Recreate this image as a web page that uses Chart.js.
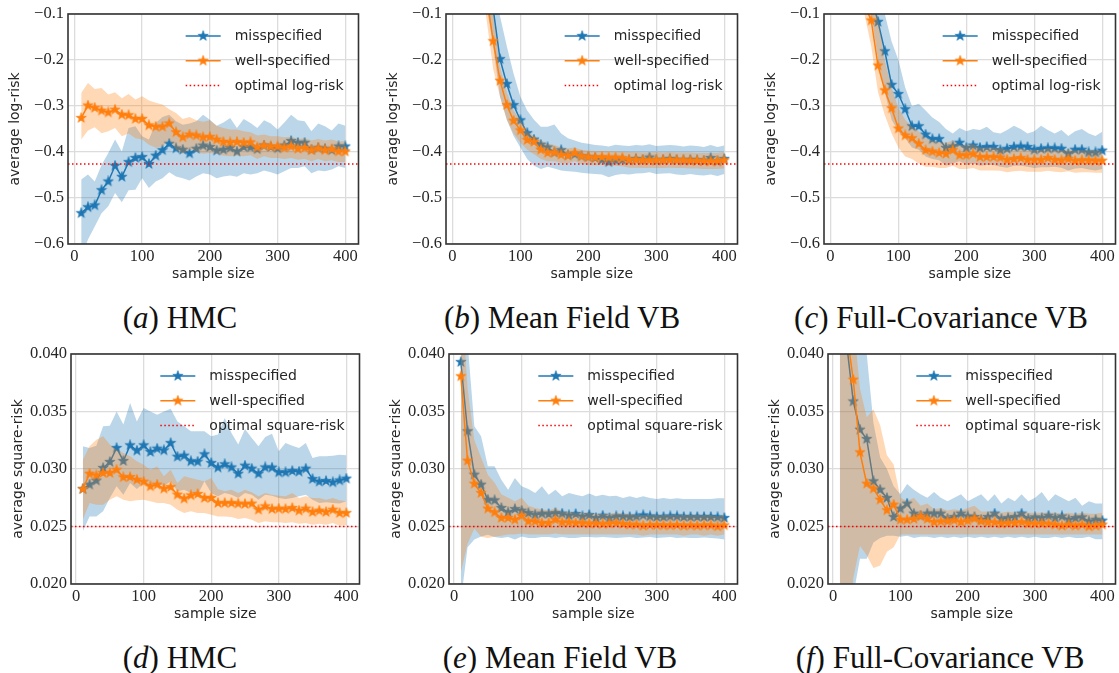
<!DOCTYPE html>
<html>
<head>
<meta charset="utf-8">
<script src="https://cdn.jsdelivr.net/npm/chart.js@4.4.1/dist/chart.umd.min.js"></script>
<style>
  html, body { margin: 0; padding: 0; background: #fff; }
  #fig { position: relative; width: 1119px; height: 673px; overflow: hidden; background: #fff; }
  #fig canvas { position: absolute; }
  .cap { position: absolute; transform: translateX(-50%); white-space: nowrap;
         font-family: "Liberation Serif", serif; font-size: 31px; line-height: 31px; color: #111; }
</style>
</head>
<body>
<div id="fig"></div>
<script>
// --- dane ---
const sampleSizes = [10,20,30,40,50,60,70,80,90,100,110,120,130,140,150,160,170,180,190,200,
                     210,220,230,240,250,260,270,280,290,300,310,320,330,340,350,360,370,380,390,400];
const xTicks = [0, 100, 200, 300, 400];
const logTicks = [-0.6, -0.5, -0.4, -0.3, -0.2, -0.1];
const sqTicks = [0.020, 0.025, 0.030, 0.035, 0.040];
const optimalLogRisk = -0.426;
const optimalSquareRisk = 0.025;

// (a) HMC, log-risk
const hmcLogMis   = [-0.533,-0.520,-0.516,-0.483,-0.464,-0.430,-0.454,-0.422,-0.413,-0.411,-0.426,-0.408,-0.396,-0.382,-0.392,-0.395,-0.403,-0.393,-0.386,-0.389,-0.397,-0.395,-0.391,-0.399,-0.389,-0.390,-0.394,-0.386,-0.389,-0.392,-0.386,-0.376,-0.380,-0.380,-0.395,-0.391,-0.393,-0.396,-0.388,-0.388];
const hmcLogMisHi = [-0.460,-0.449,-0.464,-0.428,-0.402,-0.373,-0.399,-0.348,-0.344,-0.366,-0.373,-0.337,-0.324,-0.319,-0.333,-0.341,-0.338,-0.333,-0.319,-0.330,-0.343,-0.336,-0.326,-0.348,-0.328,-0.337,-0.348,-0.331,-0.338,-0.351,-0.336,-0.319,-0.331,-0.333,-0.355,-0.338,-0.344,-0.353,-0.338,-0.343];
const hmcLogMisLo = [-0.630,-0.590,-0.562,-0.533,-0.518,-0.489,-0.509,-0.483,-0.482,-0.457,-0.478,-0.464,-0.457,-0.444,-0.453,-0.457,-0.462,-0.453,-0.446,-0.449,-0.457,-0.453,-0.451,-0.454,-0.446,-0.449,-0.446,-0.440,-0.444,-0.449,-0.442,-0.435,-0.435,-0.431,-0.446,-0.440,-0.442,-0.438,-0.431,-0.435];
const hmcLogWell   = [-0.326,-0.299,-0.304,-0.310,-0.314,-0.308,-0.319,-0.320,-0.328,-0.328,-0.342,-0.345,-0.345,-0.338,-0.357,-0.368,-0.362,-0.364,-0.368,-0.367,-0.373,-0.378,-0.379,-0.378,-0.380,-0.379,-0.390,-0.386,-0.388,-0.388,-0.391,-0.388,-0.393,-0.391,-0.396,-0.392,-0.396,-0.394,-0.399,-0.399];
const hmcLogWellHi = [-0.272,-0.250,-0.263,-0.261,-0.275,-0.270,-0.283,-0.274,-0.286,-0.279,-0.288,-0.293,-0.297,-0.307,-0.315,-0.328,-0.324,-0.331,-0.334,-0.331,-0.343,-0.348,-0.351,-0.351,-0.355,-0.357,-0.364,-0.362,-0.366,-0.366,-0.368,-0.367,-0.372,-0.370,-0.375,-0.372,-0.375,-0.373,-0.377,-0.376];
const hmcLogWellLo = [-0.373,-0.353,-0.346,-0.359,-0.355,-0.348,-0.366,-0.360,-0.370,-0.373,-0.384,-0.391,-0.388,-0.373,-0.395,-0.404,-0.395,-0.399,-0.404,-0.402,-0.404,-0.408,-0.409,-0.408,-0.409,-0.407,-0.415,-0.409,-0.413,-0.413,-0.415,-0.413,-0.417,-0.415,-0.420,-0.415,-0.420,-0.418,-0.422,-0.422];

// (b) Mean Field VB, log-risk
const mfLogMis   = [1.200,0.600,0.300,0.100,-0.020,-0.090,-0.198,-0.252,-0.298,-0.331,-0.359,-0.373,-0.384,-0.390,-0.401,-0.396,-0.407,-0.405,-0.409,-0.411,-0.413,-0.417,-0.422,-0.418,-0.417,-0.418,-0.415,-0.417,-0.412,-0.418,-0.417,-0.415,-0.417,-0.418,-0.417,-0.418,-0.419,-0.413,-0.420,-0.415];
const mfLogMisHi = [1.800,1.000,0.550,0.280,0.080,-0.020,-0.105,-0.170,-0.230,-0.280,-0.310,-0.330,-0.345,-0.345,-0.340,-0.360,-0.370,-0.375,-0.380,-0.382,-0.385,-0.386,-0.388,-0.384,-0.386,-0.387,-0.385,-0.386,-0.383,-0.387,-0.386,-0.385,-0.386,-0.388,-0.386,-0.387,-0.389,-0.385,-0.389,-0.386];
const mfLogMisLo = [0.700,0.250,0.080,-0.020,-0.080,-0.170,-0.280,-0.330,-0.365,-0.390,-0.415,-0.430,-0.437,-0.432,-0.436,-0.440,-0.442,-0.443,-0.445,-0.447,-0.448,-0.449,-0.455,-0.450,-0.448,-0.449,-0.447,-0.446,-0.444,-0.448,-0.447,-0.446,-0.449,-0.450,-0.448,-0.450,-0.451,-0.449,-0.452,-0.448];
const mfLogWell   = [1.000,0.500,0.200,0.050,-0.060,-0.159,-0.245,-0.298,-0.332,-0.353,-0.374,-0.378,-0.395,-0.402,-0.401,-0.406,-0.408,-0.402,-0.409,-0.411,-0.412,-0.411,-0.412,-0.412,-0.413,-0.417,-0.417,-0.418,-0.418,-0.418,-0.418,-0.417,-0.418,-0.418,-0.419,-0.419,-0.420,-0.420,-0.420,-0.418];
const mfLogWellHi = [1.400,0.750,0.350,0.120,-0.020,-0.100,-0.215,-0.270,-0.310,-0.330,-0.355,-0.365,-0.375,-0.382,-0.385,-0.390,-0.392,-0.390,-0.395,-0.397,-0.398,-0.398,-0.398,-0.399,-0.399,-0.400,-0.400,-0.401,-0.401,-0.400,-0.401,-0.400,-0.401,-0.401,-0.401,-0.402,-0.402,-0.402,-0.402,-0.400];
const mfLogWellLo = [0.700,0.300,0.080,-0.020,-0.110,-0.220,-0.280,-0.330,-0.360,-0.380,-0.395,-0.405,-0.415,-0.420,-0.420,-0.424,-0.425,-0.420,-0.426,-0.428,-0.429,-0.428,-0.430,-0.430,-0.431,-0.434,-0.434,-0.435,-0.435,-0.435,-0.435,-0.434,-0.435,-0.435,-0.436,-0.436,-0.437,-0.437,-0.437,-0.436];

// (c) Full-Covariance VB, log-risk
const fcLogMis   = [1.500,0.800,0.450,0.250,0.100,-0.060,-0.117,-0.181,-0.254,-0.274,-0.307,-0.344,-0.344,-0.362,-0.372,-0.372,-0.391,-0.388,-0.380,-0.391,-0.386,-0.391,-0.389,-0.389,-0.396,-0.393,-0.389,-0.388,-0.389,-0.395,-0.393,-0.392,-0.392,-0.393,-0.404,-0.395,-0.395,-0.401,-0.401,-0.397];
const fcLogMisHi = [2.000,1.200,0.700,0.420,0.220,0.050,-0.030,-0.100,-0.160,-0.200,-0.260,-0.300,-0.295,-0.310,-0.325,-0.335,-0.350,-0.360,-0.348,-0.355,-0.350,-0.352,-0.345,-0.357,-0.360,-0.352,-0.343,-0.350,-0.360,-0.355,-0.343,-0.352,-0.360,-0.352,-0.365,-0.355,-0.350,-0.360,-0.365,-0.356];
const fcLogMisLo = [1.000,0.500,0.250,0.100,0.000,-0.100,-0.200,-0.270,-0.330,-0.355,-0.370,-0.390,-0.395,-0.410,-0.415,-0.418,-0.430,-0.425,-0.420,-0.428,-0.425,-0.430,-0.428,-0.428,-0.432,-0.434,-0.430,-0.430,-0.432,-0.435,-0.433,-0.433,-0.432,-0.434,-0.440,-0.436,-0.435,-0.438,-0.440,-0.437];
const fcLogWell   = [1.200,0.600,0.300,0.100,-0.080,-0.114,-0.212,-0.266,-0.305,-0.349,-0.364,-0.370,-0.382,-0.396,-0.399,-0.402,-0.404,-0.396,-0.407,-0.407,-0.404,-0.411,-0.411,-0.411,-0.412,-0.417,-0.415,-0.413,-0.417,-0.417,-0.417,-0.413,-0.417,-0.418,-0.415,-0.419,-0.418,-0.418,-0.419,-0.419];
const fcLogWellHi = [1.600,0.900,0.500,0.250,0.100,-0.030,-0.110,-0.200,-0.260,-0.305,-0.330,-0.345,-0.355,-0.370,-0.375,-0.378,-0.380,-0.375,-0.385,-0.385,-0.383,-0.390,-0.390,-0.390,-0.392,-0.395,-0.393,-0.392,-0.395,-0.395,-0.395,-0.392,-0.395,-0.396,-0.394,-0.397,-0.396,-0.396,-0.397,-0.398];
const fcLogWellLo = [0.800,0.400,0.150,0.000,-0.100,-0.170,-0.270,-0.320,-0.360,-0.390,-0.410,-0.415,-0.425,-0.432,-0.432,-0.435,-0.435,-0.430,-0.437,-0.437,-0.435,-0.440,-0.440,-0.440,-0.441,-0.444,-0.442,-0.441,-0.443,-0.443,-0.443,-0.441,-0.443,-0.444,-0.442,-0.445,-0.444,-0.444,-0.445,-0.445];

// (d) HMC, square-risk
const hmcSqMis   = [0.02826,0.02864,0.02899,0.03009,0.03061,0.03183,0.03070,0.03206,0.03160,0.03206,0.03148,0.03177,0.03162,0.03226,0.03107,0.03116,0.03067,0.03064,0.03128,0.03052,0.03012,0.03041,0.03014,0.02959,0.03029,0.03003,0.02959,0.03014,0.03012,0.02971,0.02971,0.02983,0.02977,0.03003,0.02913,0.02890,0.02896,0.02884,0.02901,0.02916];
const hmcSqMisHi = [0.03197,0.03183,0.03203,0.03371,0.03377,0.03500,0.03386,0.03574,0.03414,0.03530,0.03500,0.03472,0.03500,0.03525,0.03414,0.03371,0.03328,0.03328,0.03328,0.03284,0.03299,0.03443,0.03313,0.03212,0.03348,0.03270,0.03197,0.03278,0.03307,0.03154,0.03226,0.03203,0.03183,0.03226,0.03096,0.03110,0.03110,0.03116,0.03125,0.03119];
const hmcSqMisLo = [0.02458,0.02588,0.02588,0.02632,0.02748,0.02849,0.02777,0.02878,0.02826,0.02878,0.02835,0.02872,0.02849,0.02893,0.02806,0.02820,0.02791,0.02777,0.02893,0.02791,0.02762,0.02791,0.02777,0.02748,0.02791,0.02777,0.02733,0.02777,0.02768,0.02748,0.02739,0.02748,0.02762,0.02777,0.02733,0.02704,0.02710,0.02704,0.02699,0.02719];
const hmcSqWell   = [0.02826,0.02959,0.02945,0.02965,0.02965,0.02994,0.02928,0.02930,0.02907,0.02890,0.02849,0.02864,0.02829,0.02843,0.02777,0.02742,0.02771,0.02783,0.02748,0.02748,0.02704,0.02704,0.02704,0.02699,0.02696,0.02699,0.02646,0.02675,0.02652,0.02655,0.02652,0.02661,0.02638,0.02655,0.02626,0.02638,0.02626,0.02646,0.02617,0.02617];
const hmcSqWellHi = [0.03081,0.03197,0.03255,0.03284,0.03212,0.03168,0.03139,0.03110,0.03067,0.03038,0.02994,0.03023,0.02936,0.02994,0.02878,0.02936,0.02922,0.02907,0.02893,0.02922,0.02826,0.02806,0.02820,0.02791,0.02820,0.02797,0.02762,0.02791,0.02777,0.02768,0.02762,0.02791,0.02748,0.02762,0.02748,0.02748,0.02733,0.02748,0.02728,0.02719];
const hmcSqWellLo = [0.02559,0.02704,0.02690,0.02690,0.02733,0.02762,0.02733,0.02719,0.02728,0.02733,0.02719,0.02704,0.02704,0.02690,0.02646,0.02617,0.02632,0.02617,0.02617,0.02603,0.02588,0.02588,0.02583,0.02565,0.02574,0.02559,0.02530,0.02545,0.02536,0.02536,0.02530,0.02536,0.02525,0.02530,0.02516,0.02525,0.02516,0.02530,0.02507,0.02510];

// (e) Mean Field VB, square-risk
const mfSqMis   = [0.03930,0.03328,0.02951,0.02864,0.02733,0.02728,0.02661,0.02623,0.02652,0.02638,0.02617,0.02603,0.02612,0.02609,0.02617,0.02612,0.02597,0.02609,0.02588,0.02600,0.02574,0.02594,0.02574,0.02588,0.02588,0.02583,0.02588,0.02597,0.02588,0.02583,0.02583,0.02588,0.02588,0.02583,0.02583,0.02583,0.02583,0.02583,0.02580,0.02574];
const mfSqMisHi = [0.04800,0.04100,0.03371,0.03284,0.03023,0.03023,0.02907,0.02820,0.02922,0.02849,0.02826,0.02791,0.02849,0.02777,0.02820,0.02762,0.02791,0.02777,0.02762,0.02786,0.02762,0.02777,0.02762,0.02768,0.02748,0.02762,0.02748,0.02762,0.02748,0.02739,0.02748,0.02739,0.02745,0.02739,0.02739,0.02739,0.02739,0.02739,0.02745,0.02745];
const mfSqMisLo = [0.01850,0.02320,0.02386,0.02414,0.02429,0.02409,0.02400,0.02409,0.02386,0.02414,0.02400,0.02400,0.02409,0.02409,0.02400,0.02409,0.02400,0.02400,0.02409,0.02409,0.02405,0.02409,0.02405,0.02400,0.02405,0.02409,0.02400,0.02405,0.02409,0.02400,0.02405,0.02409,0.02400,0.02405,0.02400,0.02400,0.02405,0.02400,0.02395,0.02386];
const mfSqWell   = [0.03806,0.03072,0.02872,0.02791,0.02655,0.02623,0.02574,0.02574,0.02559,0.02594,0.02545,0.02545,0.02530,0.02530,0.02559,0.02536,0.02536,0.02530,0.02530,0.02525,0.02525,0.02522,0.02525,0.02530,0.02522,0.02516,0.02516,0.02507,0.02513,0.02513,0.02510,0.02510,0.02513,0.02507,0.02510,0.02507,0.02510,0.02510,0.02500,0.02510];
const mfSqWellHi = [0.04600,0.03700,0.03250,0.03100,0.02950,0.02880,0.02780,0.02750,0.02720,0.02750,0.02680,0.02660,0.02650,0.02640,0.02660,0.02630,0.02630,0.02620,0.02620,0.02620,0.02610,0.02610,0.02610,0.02620,0.02610,0.02610,0.02600,0.02600,0.02600,0.02600,0.02600,0.02600,0.02600,0.02600,0.02600,0.02600,0.02600,0.02600,0.02590,0.02600];
const mfSqWellLo = [0.02100,0.02350,0.02480,0.02410,0.02400,0.02410,0.02420,0.02430,0.02430,0.02440,0.02430,0.02430,0.02430,0.02430,0.02440,0.02430,0.02430,0.02430,0.02430,0.02430,0.02430,0.02430,0.02430,0.02430,0.02430,0.02430,0.02430,0.02420,0.02430,0.02430,0.02430,0.02430,0.02430,0.02420,0.02430,0.02430,0.02420,0.02430,0.02420,0.02430];

// (f) Full-Covariance VB, square-risk
const fcSqMis   = [0.05500,0.04100,0.03588,0.03342,0.03261,0.02893,0.02820,0.02748,0.02583,0.02655,0.02699,0.02612,0.02594,0.02612,0.02612,0.02612,0.02568,0.02583,0.02612,0.02588,0.02583,0.02559,0.02583,0.02612,0.02565,0.02574,0.02583,0.02612,0.02568,0.02580,0.02574,0.02594,0.02574,0.02588,0.02559,0.02574,0.02580,0.02545,0.02559,0.02551];
const fcSqMisHi = [0.07000,0.06000,0.04800,0.04500,0.04000,0.03400,0.03100,0.03000,0.02850,0.02780,0.02870,0.02820,0.02780,0.02750,0.02800,0.02750,0.02720,0.02750,0.02780,0.02720,0.02750,0.02780,0.02720,0.02780,0.02700,0.02750,0.02720,0.02780,0.02720,0.02750,0.02800,0.02720,0.02780,0.02750,0.02720,0.02750,0.02680,0.02720,0.02700,0.02700];
const fcSqMisLo = [0.00500,0.01200,0.01900,0.02220,0.02220,0.02360,0.02400,0.02420,0.02420,0.02410,0.02420,0.02400,0.02410,0.02410,0.02400,0.02410,0.02400,0.02410,0.02400,0.02410,0.02400,0.02410,0.02400,0.02410,0.02400,0.02410,0.02400,0.02410,0.02400,0.02410,0.02400,0.02400,0.02410,0.02400,0.02410,0.02400,0.02400,0.02410,0.02390,0.02390];
const fcSqWell   = [0.05000,0.04200,0.03777,0.03145,0.02872,0.02829,0.02733,0.02641,0.02690,0.02559,0.02559,0.02565,0.02588,0.02565,0.02539,0.02545,0.02545,0.02554,0.02539,0.02551,0.02568,0.02545,0.02536,0.02536,0.02525,0.02530,0.02530,0.02539,0.02525,0.02525,0.02525,0.02525,0.02516,0.02507,0.02516,0.02507,0.02516,0.02500,0.02507,0.02516];
const fcSqWellHi = [0.06000,0.05000,0.04300,0.03700,0.03450,0.03520,0.03380,0.03120,0.03040,0.02750,0.02720,0.02750,0.02680,0.02700,0.02650,0.02660,0.02640,0.02650,0.02640,0.02660,0.02680,0.02630,0.02630,0.02630,0.02620,0.02630,0.02620,0.02630,0.02620,0.02620,0.02620,0.02620,0.02620,0.02610,0.02620,0.02610,0.02620,0.02610,0.02610,0.02620];
const fcSqWellLo = [0.00300,0.01000,0.02050,0.02330,0.02250,0.02140,0.02160,0.02280,0.02320,0.02430,0.02430,0.02430,0.02430,0.02430,0.02430,0.02430,0.02430,0.02430,0.02430,0.02430,0.02430,0.02430,0.02430,0.02430,0.02430,0.02430,0.02430,0.02430,0.02430,0.02430,0.02430,0.02430,0.02430,0.02430,0.02430,0.02430,0.02430,0.02430,0.02430,0.02430];

const BLUE = '#1f77b4';
const ORANGE = '#ff7f0e';
const BLUE_FILL = 'rgba(31,119,180,0.3)';
const ORANGE_FILL = 'rgba(255,127,14,0.3)';
const SANS = '"DejaVu Sans", sans-serif';
const SERIF = '"Liberation Serif", serif';

// gwiazdka jak marker '*' z matplotlib
function makeStar(color) {
    const c = document.createElement('canvas');
    c.width = 12; c.height = 12;
    const g = c.getContext('2d');
    g.beginPath();
    for (let i = 0; i < 10; i++) {
        const r = i % 2 === 0 ? 5.4 : 2.2;
        const a = -Math.PI / 2 + i * Math.PI / 5;
        g.lineTo(6 + r * Math.cos(a), 6 + r * Math.sin(a));
    }
    g.closePath();
    g.fillStyle = color;
    g.fill();
    g.lineWidth = 0.6;
    g.strokeStyle = color;
    g.stroke();
    return c;
}
const starBlue = makeStar(BLUE);
const starOrange = makeStar(ORANGE);

const pts = vals => sampleSizes.map((n, i) => ({ x: n, y: vals[i] }));

function seriesSets(mean, hi, lo, color, fillColor, star, orderBase) {
    return [
        { data: pts(mean), borderColor: color, borderWidth: 1.5, pointStyle: star, pointRadius: 5,
          fill: false, order: orderBase, clip: 0 },
        { data: pts(hi), borderColor: 'transparent', borderWidth: 0, pointRadius: 0,
          fill: '+1', backgroundColor: fillColor, order: orderBase + 1, clip: 0 },
        { data: pts(lo), borderColor: 'transparent', borderWidth: 0, pointRadius: 0,
          fill: false, order: orderBase + 1, clip: 0 }
    ];
}

// --- ramka, linia optimum i legenda ---
const panelDeco = {
    id: 'panelDeco',
    afterDatasetsDraw(chart, args, opts) {
        const { ctx, chartArea: a } = chart;
        const yy = chart.scales.y.getPixelForValue(opts.optimal);
        ctx.save();
        ctx.beginPath();
        ctx.rect(a.left, a.top, a.right - a.left, a.bottom - a.top);
        ctx.clip();
        ctx.strokeStyle = '#ff0000';
        ctx.lineWidth = 1.5;
        ctx.setLineDash([1.5, 2.5]);
        ctx.beginPath();
        ctx.moveTo(a.left, yy);
        ctx.lineTo(a.right, yy);
        ctx.stroke();
        ctx.restore();
    },
    afterDraw(chart, args, opts) {
        const { ctx, chartArea: a } = chart;
        ctx.save();
        ctx.strokeStyle = '#333333';
        ctx.lineWidth = 1.6;
        ctx.strokeRect(a.left, a.top, a.right - a.left, a.bottom - a.top);

        const entries = [
            { label: 'misspecified', color: BLUE, star: starBlue },
            { label: 'well-specified', color: ORANGE, star: starOrange },
            { label: opts.optimalLabel, color: '#ff0000', dotted: true }
        ];
        ctx.font = '14px ' + SANS;
        ctx.textBaseline = 'middle';
        ctx.textAlign = 'left';
        const maxW = Math.max(...entries.map(e => ctx.measureText(e.label).width));
        const tx = a.right - 15 - maxW;
        entries.forEach((e, i) => {
            const yy = a.top + 22 + i * 24.7;
            ctx.strokeStyle = e.color;
            ctx.lineWidth = 1.5;
            ctx.setLineDash(e.dotted ? [1.5, 2.5] : []);
            ctx.beginPath();
            ctx.moveTo(tx - 49, yy);
            ctx.lineTo(tx - 14, yy);
            ctx.stroke();
            if (e.star) ctx.drawImage(e.star, tx - 31.5 - 6, yy - 6);
            ctx.fillStyle = '#262626';
            ctx.fillText(e.label, tx, yy + 0.5);
        });
        ctx.restore();
    }
};

// --- panele ---
const Y_AXIS_W = 70, X_AXIS_H = 46, PAD_TOP = 14, PAD_RIGHT = 4;
const panels = [
    { L: 68,  R: 361,  top: 0,   xMin: -9.5, kind: 'log', mis: [hmcLogMis, hmcLogMisHi, hmcLogMisLo], well: [hmcLogWell, hmcLogWellHi, hmcLogWellLo] },
    { L: 446, R: 740,  top: 0,   xMin: -9.5, kind: 'log', mis: [mfLogMis, mfLogMisHi, mfLogMisLo],    well: [mfLogWell, mfLogWellHi, mfLogWellLo] },
    { L: 824, R: 1118, top: 0,   xMin: -9.5, kind: 'log', mis: [fcLogMis, fcLogMisHi, fcLogMisLo],    well: [fcLogWell, fcLogWellHi, fcLogWellLo] },
    { L: 71,  R: 362,  top: 340, xMin: -7.5, kind: 'sq',  mis: [hmcSqMis, hmcSqMisHi, hmcSqMisLo],    well: [hmcSqWell, hmcSqWellHi, hmcSqWellLo] },
    { L: 449, R: 740,  top: 340, xMin: -7.5, kind: 'sq',  mis: [mfSqMis, mfSqMisHi, mfSqMisLo],       well: [mfSqWell, mfSqWellHi, mfSqWellLo] },
    { L: 828, R: 1118, top: 340, xMin: -7.5, kind: 'sq',  mis: [fcSqMis, fcSqMisHi, fcSqMisLo],       well: [fcSqWell, fcSqWellHi, fcSqWellLo] }
];

const captions = [
    { letter: 'a', text: 'HMC', x: 180, y: 302 },
    { letter: 'b', text: 'Mean Field VB', x: 562, y: 302 },
    { letter: 'c', text: 'Full-Covariance VB', x: 941, y: 302 },
    { letter: 'd', text: 'HMC', x: 180, y: 642 },
    { letter: 'e', text: 'Mean Field VB', x: 560, y: 642 },
    { letter: 'f', text: 'Full-Covariance VB', x: 940, y: 642 }
];

const fig = document.getElementById('fig');
Chart.defaults.font.family = SERIF;
Chart.defaults.color = '#262626';

panels.forEach(p => {
    const isLog = p.kind === 'log';
    const canvas = document.createElement('canvas');
    const w = (p.R - p.L) + Y_AXIS_W + PAD_RIGHT;
    const h = 230 + PAD_TOP + X_AXIS_H;
    canvas.width = w; canvas.height = h;
    canvas.style.left = (p.L - Y_AXIS_W) + 'px';
    canvas.style.top = p.top + 'px';
    canvas.style.width = w + 'px';
    canvas.style.height = h + 'px';
    fig.appendChild(canvas);

    const yTicks = isLog ? logTicks : sqTicks;
    new Chart(canvas, {
        type: 'line',
        data: {
            datasets: [
                ...seriesSets(p.mis[0], p.mis[1], p.mis[2], BLUE, BLUE_FILL, starBlue, 3),
                ...seriesSets(p.well[0], p.well[1], p.well[2], ORANGE, ORANGE_FILL, starOrange, 1)
            ]
        },
        options: {
            responsive: false,
            animation: false,
            events: [],
            layout: { padding: { left: 0, right: PAD_RIGHT, top: PAD_TOP, bottom: 0 } },
            elements: { line: { tension: 0 } },
            plugins: {
                legend: { display: false },
                tooltip: { enabled: false },
                panelDeco: {
                    optimal: isLog ? optimalLogRisk : optimalSquareRisk,
                    optimalLabel: isLog ? 'optimal log-risk' : 'optimal square-risk'
                }
            },
            scales: {
                x: {
                    type: 'linear',
                    min: p.xMin, max: 419.5,
                    afterBuildTicks: s => { s.ticks = xTicks.map(v => ({ value: v })); },
                    afterFit: s => { s.height = X_AXIS_H; },
                    border: { display: false },
                    grid: { color: '#dcdcdc', lineWidth: 1.3, drawTicks: false },
                    ticks: { padding: 3, font: { family: SERIF, size: 16.5 }, color: '#262626' },
                    title: { display: true, text: 'sample size', font: { family: SANS, size: 14 },
                             color: '#262626', padding: { top: 0, bottom: 7 } }
                },
                y: {
                    type: 'linear',
                    min: yTicks[0], max: yTicks[yTicks.length - 1],
                    afterBuildTicks: s => { s.ticks = yTicks.map(v => ({ value: v })); },
                    afterFit: s => { s.width = Y_AXIS_W; },
                    border: { display: false },
                    grid: { color: '#dcdcdc', lineWidth: 1.3, drawTicks: false },
                    ticks: {
                        padding: 4, font: { family: SERIF, size: 16.5 }, color: '#262626',
                        callback: v => isLog ? v.toFixed(1).replace('-', '\u2212') : v.toFixed(3)
                    },
                    title: { display: true, text: isLog ? 'average log-risk' : 'average square-risk',
                             font: { family: SANS, size: 14 }, color: '#262626', padding: { top: 9, bottom: 0 } }
                }
            }
        },
        plugins: [panelDeco]
    });
});

captions.forEach(c => {
    const d = document.createElement('div');
    d.className = 'cap';
    d.style.left = c.x + 'px';
    d.style.top = c.y + 'px';
    d.innerHTML = '(<i>' + c.letter + '</i>) ' + c.text;
    fig.appendChild(d);
});
</script>
</body>
</html>
